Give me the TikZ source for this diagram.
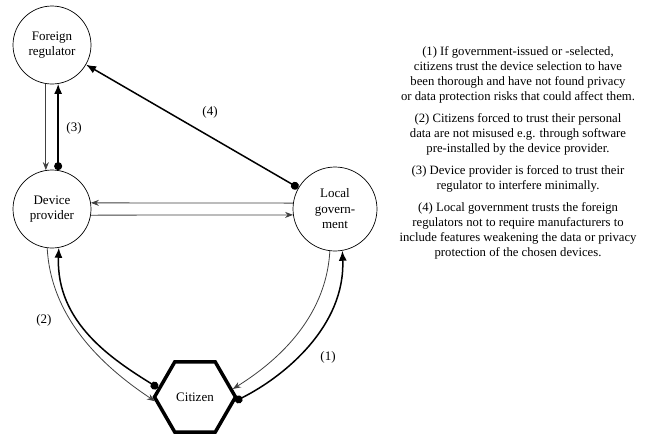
\documentclass[tikz,border=0pt]{standalone}
\usepackage{fontspec}
\setmainfont{Liberation Serif}
\usetikzlibrary{arrows.meta,shapes.geometric}
\begin{document}
\begin{tikzpicture}[x=1pt,y=-1pt,
  actor/.style={circle,draw,line width=0.7pt,minimum size=78pt,inner sep=0pt,align=center,font=\fontsize{13}{15.5}\selectfont},
  citbox/.style={regular polygon,regular polygon sides=6,draw,line width=3.5pt,minimum size=81pt,inner sep=0pt,font=\fontsize{13}{15.5}\selectfont},
  thinarr/.style={draw=black!75,line width=0.8pt,-{Stealth[length=8pt,width=6pt]}},
  thickarr/.style={draw=black,line width=1.5pt,{Circle[length=8pt]}-{Latex[length=10pt,width=8pt]}},
  lbl/.style={font=\fontsize{13}{15.5}\selectfont},
  note/.style={align=center,font=\fontsize{12.7}{15}\selectfont,inner sep=0pt}]
\useasboundingbox (0,0) rectangle (662,437);

\node[actor] (fr) at (52,45) {Foreign\\regulator};
\node[actor] (dp) at (52,209) {Device\\provider};
\node[actor,minimum size=84pt] (lg) at (335,209) {Local\\govern-\\ment};
\node[citbox] (cit) at (195,397) {Citizen};

% (3)
\draw[thinarr] (fr.-99) -- (dp.99);
\draw[thickarr] (dp.81) -- (fr.-81);
\node[lbl] (l3) at (74,128) {(3)};

% (4)
\draw[thickarr] (lg.150) -- (fr.-30);
\node[lbl] (l4) at (210,112) {(4)};

% device provider <-> local government
\draw[thinarr] (lg.172) -- (dp.9);
\draw[thinarr] (dp.-9) -- (lg.-172);

% (2)
\draw[thinarr] (dp.-97) .. controls +(4,75) and +(-45,-30) .. (cit.186);
\draw[thickarr] (cit.166) .. controls +(-45,-28) and +(-3,75) .. (dp.-80);
\node[lbl] (l2) at (44,320) {(2)};

% (1)
\draw[thinarr] (lg.-97) .. controls +(-4,70) and +(40,-25) .. (cit.12);
\draw[thickarr] (cit.-6) .. controls +(50,-25) and +(3,75) .. (lg.-80);
\node[lbl] (l1) at (328,357) {(1)};

% notes
\node[note] (p1) at (518,74.5) {(1) If government-issued or -selected,\\citizens trust the device selection to have\\been thorough and have not found privacy\\or data protection risks that could affect them.};
\node[note] (p2) at (518,134) {(2) Citizens forced to trust their personal\\data are not misused e.g. through software\\pre-installed by the device provider.};
\node[note] (p3) at (518,178.5) {(3) Device provider is forced to trust their\\regulator to interfere minimally.};
\node[note] (p4) at (518,230.5) {(4) Local government trusts the foreign\\regulators not to require manufacturers to\\include features weakening the data or privacy\\protection of the chosen devices.};
\end{tikzpicture}
\end{document}
